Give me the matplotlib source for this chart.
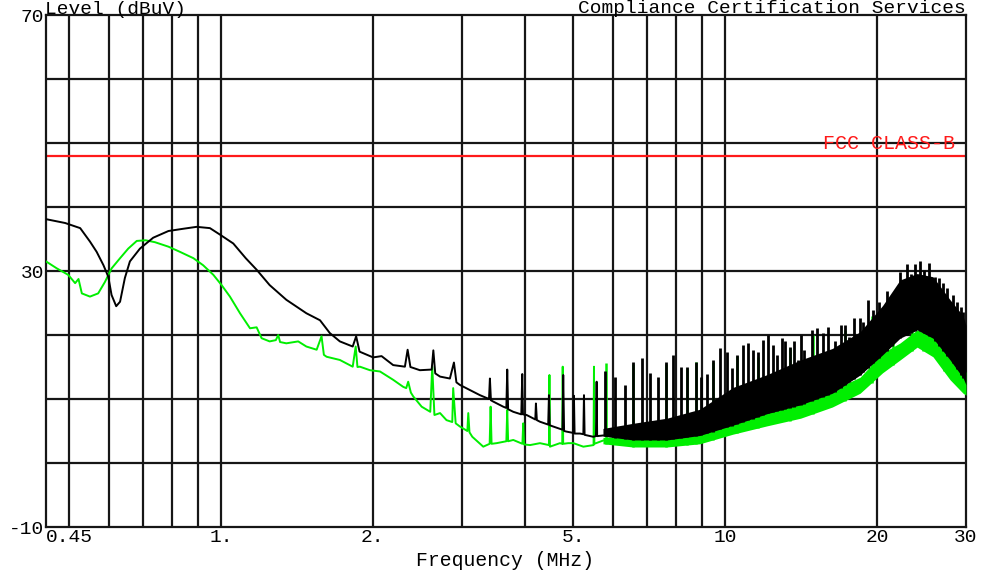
import numpy as np
from matplotlib import pyplot as plt
from matplotlib.ticker import NullLocator

# peak trace (black), MHz / dBuV, single line up to ~5.7 MHz
black_freq = [0.45, 0.491, 0.526, 0.55, 0.567, 0.585, 0.598, 0.607, 0.62, 0.631,
              0.645, 0.66, 0.691, 0.734, 0.787, 0.842, 0.895, 0.951, 0.995, 1.058,
              1.12, 1.177, 1.249, 1.348, 1.477, 1.572, 1.644, 1.721, 1.825, 1.854,
              1.883, 2.003, 2.082, 2.195, 2.316, 2.345, 2.375, 2.48, 2.617, 2.637,
              2.66, 2.719, 2.844, 2.897, 2.93, 2.977, 3.116, 3.262, 3.40, 3.414,
              3.43, 3.466, 3.628, 3.68, 3.695, 3.71, 3.798, 3.94, 3.957, 3.97,
              4.037, 4.20, 4.212, 4.23, 4.29, 4.455, 4.47, 4.485, 4.558, 4.755,
              4.771, 4.79, 4.846, 4.995, 5.01, 5.025, 5.15, 5.23, 5.245, 5.26,
              5.47, 5.54, 5.557, 5.57, 5.72]
black_level = [38.1, 37.5, 36.7, 34.6, 33.0, 30.9, 29.1, 26.25, 24.5, 25.2,
               28.9, 31.5, 33.5, 35.2, 36.25, 36.6, 36.9, 36.7, 35.7, 34.3,
               32.0, 30.2, 27.8, 25.5, 23.4, 22.3, 20.3, 19.0, 18.2, 19.8,
               17.4, 16.5, 16.7, 15.3, 15.05, 17.7, 15.0, 14.5, 14.6, 17.6,
               14.0, 13.5, 13.2, 15.7, 12.6, 12.2, 11.4, 10.6, 10.0, 13.2,
               9.8, 9.6, 8.8, 8.6, 14.6, 8.4, 8.0, 7.6, 13.9, 7.6,
               7.5, 6.8, 9.3, 6.7, 6.45, 6.0, 10.6, 5.9, 5.7, 5.2,
               13.75, 5.0, 4.9, 4.7, 10.5, 4.6, 4.6, 4.5, 10.6, 4.4,
               4.1, 4.2, 12.7, 4.2, 4.3]

# average trace (green)
green_freq = [0.45, 0.473, 0.498, 0.514, 0.522, 0.53, 0.55, 0.571, 0.589, 0.607,
              0.631, 0.655, 0.681, 0.709, 0.74, 0.787, 0.829, 0.882, 0.922, 0.966,
              1.003, 1.042, 1.091, 1.142, 1.177, 1.204, 1.249, 1.285, 1.299, 1.31,
              1.348, 1.423, 1.477, 1.548, 1.583, 1.60, 1.62, 1.721, 1.825, 1.85,
              1.865, 1.886, 1.974, 2.067, 2.195, 2.298, 2.33, 2.351, 2.38, 2.406,
              2.5, 2.60, 2.624, 2.65, 2.719, 2.80, 2.875, 2.887, 2.92, 2.977,
              3.08, 3.093, 3.11, 3.15, 3.312, 3.41, 3.425, 3.44, 3.52, 3.68,
              3.695, 3.71, 3.798, 3.96, 3.975, 3.99, 4.1, 4.29, 4.47, 4.48,
              4.49, 4.70, 4.75, 4.76, 4.77, 4.88, 5.0, 5.23, 5.48, 5.49,
              5.50, 5.72]
green_level = [31.5, 30.4, 29.4, 28.1, 28.75, 26.5, 26.0, 26.5, 28.3, 30.4,
               32.0, 33.5, 34.7, 34.8, 34.5, 33.8, 33.0, 32.0, 30.9, 29.4,
               27.8, 26.0, 23.4, 21.05, 21.2, 19.5, 19.0, 19.2, 20.0, 18.9,
               18.7, 19.0, 18.2, 17.7, 19.8, 16.9, 16.6, 16.1, 15.05, 18.2,
               15.0, 15.05, 14.5, 14.3, 13.0, 11.9, 11.7, 12.7, 11.0, 10.4,
               8.8, 8.0, 15.05, 7.5, 7.8, 6.7, 6.4, 11.7, 6.2, 5.7,
               5.0, 7.8, 4.8, 4.1, 2.55, 3.0, 8.8, 3.0, 3.1, 3.4,
               8.3, 3.4, 3.6, 3.0, 6.2, 2.9, 2.8, 3.1, 2.8, 13.75,
               2.55, 3.1, 3.0, 15.05, 3.0, 3.1, 3.1, 2.55, 2.8, 15.05,
               3.0, 3.5]

# above ~5.7 MHz both traces turn into a dense band
band_freq = [5.72, 6.56, 7.66, 8.9, 10.35, 12.09, 14.1, 16.3, 18.5, 20.5,
             22.2, 24.0, 25.8, 27.9, 29.6, 30.0]
black_band_low = [4.2, 3.6, 3.6, 4.3, 5.9, 7.7, 9.1, 10.9, 13.75, 16.9,
                  19.5, 20.8, 19.5, 16.1, 13.3, 12.2]
black_band_high = [5.4, 6.2, 7.0, 8.4, 11.8, 13.8, 16.1, 17.9, 20.5, 24.6,
                   28.6, 29.6, 29.1, 25.5, 23.0, 21.5]
green_band_low = [3.0, 2.5, 2.5, 3.0, 4.5, 5.8, 7.0, 8.75, 10.9, 14.1,
                  16.1, 18.1, 16.6, 13.0, 10.9, 10.6]
green_band_high = [4.0, 4.2, 4.8, 5.9, 6.7, 7.8, 9.4, 11.4, 13.4, 17.2,
                   18.75, 20.8, 19.7, 16.6, 14.5, 14.2]

# harmonic spikes sticking out of the band
black_spike_freq = [5.77, 6.04, 6.32, 6.57, 6.83, 7.09, 7.36, 7.62, 7.88, 8.17,
                    8.41, 8.73, 8.93, 9.21, 9.46, 9.76, 10.06, 10.29, 10.56, 10.85,
                    11.10, 11.33, 11.62, 11.89, 12.16, 12.41, 12.64, 12.93, 13.13, 13.44,
                    13.68, 13.95, 14.1, 14.33, 14.87, 15.17, 15.64, 16.0, 16.5, 16.93,
                    17.26, 17.6, 17.99, 18.49, 18.77, 19.2, 19.65, 20.19, 20.88, 21.36,
                    22.19, 22.88, 23.3, 23.77, 24.31, 24.76, 25.37, 26.04, 26.56, 27.04,
                    27.54, 28.23, 28.74, 29.28, 29.63]
black_spike_level = [14.3, 13.5, 12.2, 15.8, 16.4, 14.0, 13.4, 15.8, 16.8, 15.05,
                     15.0, 15.8, 13.4, 13.9, 16.1, 17.9, 17.4, 14.8, 16.9, 18.4,
                     18.7, 17.7, 17.4, 19.2, 20.0, 18.4, 16.9, 19.5, 19.0, 18.2,
                     19.0, 16.1, 20.0, 17.7, 20.8, 21.05, 20.3, 21.3, 19.0, 21.6,
                     21.6, 19.7, 22.6, 22.6, 22.1, 25.5, 23.9, 25.2, 26.8, 25.0,
                     29.9, 31.1, 29.6, 31.1, 31.5, 30.2, 31.3, 29.1, 28.85, 28.1,
                     27.3, 26.25, 25.2, 24.4, 23.6]
green_spike_freq = [5.79, 6.57, 7.62, 8.41, 8.75, 9.46, 10.56, 11.62, 13.44, 14.94,
                    17.3, 19.5, 21.5, 23.4, 24.7, 27.1]
green_spike_level = [15.6, 15.5, 15.5, 14.9, 15.8, 15.8, 16.7, 16.6, 18.0, 20.0,
                     20.8, 22.9, 24.4, 21.05, 21.6, 19.6]

limit_level = 48
limit_name = 'FCC CLASS-B'

grid_freqs = [0.5, 0.6, 0.7, 0.8, 0.9, 1, 2, 3, 4, 5, 6, 7, 8, 9, 10, 20]
x_ticks = [0.45, 1, 2, 5, 10, 20, 30]
x_labels = ['0.45', '1.', '2.', '5.', '10', '20', '30']
y_ticks = [-10, 30, 70]


def main():
    plt.rcParams['font.family'] = ['Liberation Mono', 'DejaVu Sans Mono']
    W, H = 982, 571
    grid_col = '#161616'

    fig = plt.figure(figsize=(W / 100, H / 100), dpi=100)
    ax = fig.add_axes([46 / W, 44 / H, 920 / W, 512 / H])
    ax.set_xscale('log')
    ax.set_xlim(0.45, 30)
    ax.set_ylim(-10, 70)

    for f in grid_freqs:
        ax.axvline(f, color=grid_col, lw=1.6, zorder=1)
    for lv in range(0, 70, 10):
        ax.axhline(lv, color=grid_col, lw=1.6, zorder=1)

    ax.axhline(limit_level, color='#ff1a1a', lw=1.6, zorder=2)

    # green (average) sits under the black trace
    green = '#00ee00'
    ax.fill_between(band_freq, green_band_low, green_band_high, color=green, lw=0, zorder=3)
    ax.plot(green_freq, green_level, color=green, lw=1.4, zorder=3)
    ax.vlines(green_spike_freq, np.interp(green_spike_freq, band_freq, green_band_low),
              green_spike_level, color=green, lw=1.8, zorder=3)

    # black (peak)
    ax.fill_between(band_freq, black_band_low, black_band_high, color='black', lw=0, zorder=4)
    ax.plot(black_freq, black_level, color='black', lw=1.4, zorder=4)
    ax.vlines(black_spike_freq, np.interp(black_spike_freq, band_freq, black_band_low),
              black_spike_level, color='black', lw=2.0, zorder=4)

    ax.set_xticks(x_ticks)
    ax.set_xticklabels(x_labels)
    ax.xaxis.set_minor_locator(NullLocator())
    ax.get_xticklabels()[0].set_ha('left')
    ax.set_yticks(y_ticks)
    ax.set_yticklabels([str(v) for v in y_ticks])
    ax.tick_params(length=0, labelsize=14, colors='black')
    ax.tick_params(axis='x', pad=1.5)
    ax.tick_params(axis='y', pad=1.5)
    for s in ax.spines.values():
        s.set_linewidth(1.6)
        s.set_color(grid_col)

    fig.text(45 / W, 1 - 14 / H, 'Level (dBuV)', fontsize=14, va='baseline')
    fig.text(966 / W, 1 - 13 / H, 'Compliance Certification Services', fontsize=14,
             ha='right', va='baseline')
    fig.text(955 / W, 1 - 149 / H, limit_name, fontsize=14.4, color='#ff1a1a',
             ha='right', va='baseline')
    fig.text(505 / W, 1 - 560 / H, 'Frequency (MHz)', fontsize=14.2, ha='center', va='center')

    fig.savefig('out.png', dpi=100)


if __name__ == '__main__':
    main()
